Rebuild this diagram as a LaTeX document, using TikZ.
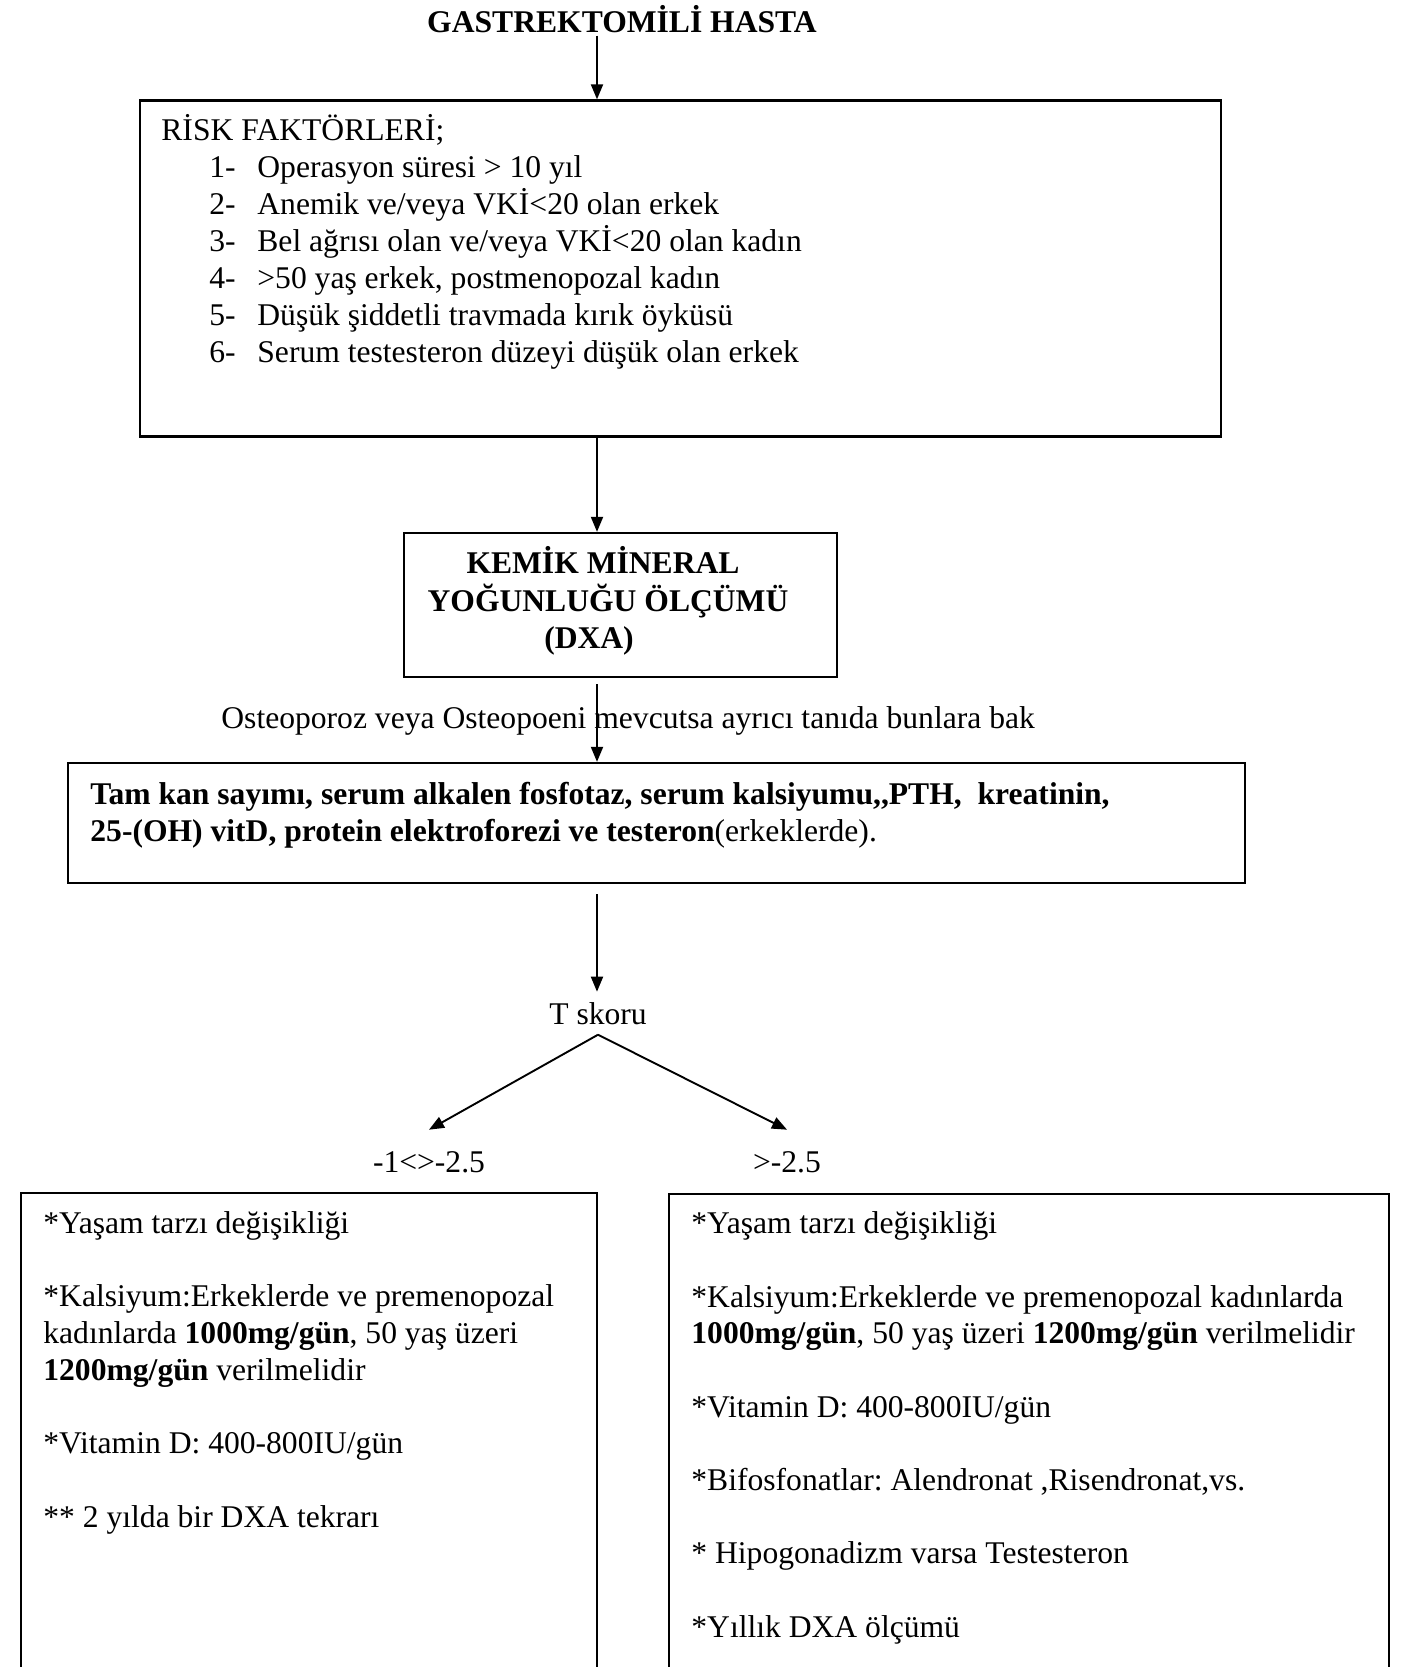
\documentclass[tikz,border=0pt]{standalone}
\usepackage{fontspec}
\setmainfont{Liberation Serif}
\usetikzlibrary{arrows.meta}
\frenchspacing
\begin{document}
\begin{tikzpicture}[x=0.5pt,y=-0.5pt,
  box/.style={draw=black,line width=1.15pt,inner sep=0pt},
  txt/.style={anchor=base west,inner sep=0pt,font=\fontsize{15.8}{18.5}\selectfont},
  ctxt/.style={anchor=base,inner sep=0pt,font=\fontsize{15.8}{18.5}\selectfont},
  btxt/.style={anchor=base,inner sep=0pt,font=\fontsize{15.8}{18.5}\selectfont\bfseries},
  arr/.style={draw=black,line width=0.95pt,-{Triangle[length=7.5pt,width=6pt]}}
]
\useasboundingbox (0,0) rectangle (1407,1667);
\coordinate (spine) at (597,0);

% title
\node[btxt] (title) at (622,32) {GASTREKTOMİLİ HASTA};

% risk box
\node[box,minimum width=540.5pt,minimum height=168pt] (risk) at (680.5,268.5) {};
\node[txt] (r0) at (161,140) {RİSK FAKTÖRLERİ;};
\node[txt] (n1) at (209,177) {1-};
\node[txt] (t1) at (257,177) {Operasyon süresi > 10 yıl};
\node[txt] (n2) at (209,214) {2-};
\node[txt] (t2) at (257,214) {Anemik ve/veya VKİ<20 olan erkek};
\node[txt] (n3) at (209,251) {3-};
\node[txt] (t3) at (257,251) {Bel ağrısı olan ve/veya VKİ<20 olan kadın};
\node[txt] (n4) at (209,288) {4-};
\node[txt] (t4) at (257,288) {>50 yaş erkek, postmenopozal kadın};
\node[txt] (n5) at (209,325) {5-};
\node[txt] (t5) at (257,325) {Düşük şiddetli travmada kırık öyküsü};
\node[txt] (n6) at (209,362) {6-};
\node[txt] (t6) at (257,362) {Serum testesteron düzeyi düşük olan erkek};

% DXA box
\node[box,minimum width=216.5pt,minimum height=72pt] (dxa) at (620.5,605) {};
\node[btxt] (d1) at (603,573) {KEMİK MİNERAL};
\node[btxt] (d2) at (608,611) {YOĞUNLUĞU ÖLÇÜMÜ};
\node[btxt] (d3) at (589,648) {(DXA)};

% label
\node[txt] (ost) at (221,728) {Osteoporoz veya Osteopoeni mevcutsa ayrıcı tanıda bunlara bak};

% lab box
\node[box,minimum width=588.5pt,minimum height=60pt] (lab) at (656.5,823) {};
\node[txt] (l1) at (90,804) {\bfseries Tam kan sayımı, serum alkalen fosfotaz, serum kalsiyumu,{},PTH,\ \ kreatinin,};
\node[txt] (l2) at (90,841) {\textbf{25-(OH) vitD, protein elektroforezi ve testeron}(erkeklerde).};

% T skoru
\node[ctxt,inner sep=5pt] (tsk) at (598,1024) {T skoru};
\node[ctxt,inner sep=10.5pt] (lo) at (429,1172) {-1<>-2.5};
\node[ctxt,inner sep=10.5pt] (hi) at (787,1172) {>-2.5};

% bottom boxes
\begin{scope}
\clip (0,0) rectangle (1407,1667);
\node[box,minimum width=288pt,minimum height=264pt] (lbox) at (309,1457) {};
\node[box,minimum width=360pt,minimum height=264pt] (rbox) at (1029,1458) {};
\end{scope}

\node[txt] (a1) at (43,1233) {*Yaşam tarzı değişikliği};
\node[txt] (a2) at (43,1306) {*Kalsiyum:Erkeklerde ve premenopozal};
\node[txt] (a3) at (43,1343) {kadınlarda \textbf{1000mg/gün}, 50 yaş üzeri};
\node[txt] (a4) at (43,1380) {\textbf{1200mg/gün} verilmelidir};
\node[txt] (a5) at (43,1453) {*Vitamin D: 400-800IU/gün};
\node[txt] (a6) at (43,1527) {** 2 yılda bir DXA tekrarı};

\node[txt] (b1) at (691,1233) {*Yaşam tarzı değişikliği};
\node[txt] (b2) at (691,1307) {*Kalsiyum:Erkeklerde ve premenopozal kadınlarda};
\node[txt] (b3) at (691,1343) {\textbf{1000mg/gün}, 50 yaş üzeri \textbf{1200mg/gün} verilmelidir};
\node[txt] (b4) at (691,1417) {*Vitamin D: 400-800IU/gün};
\node[txt] (b5) at (691,1490) {*Bifosfonatlar: Alendronat ,Risendronat,vs.};
\node[txt] (b6) at (691,1563) {* Hipogonadizm varsa Testesteron};
\node[txt] (b7) at (691,1637) {*Yıllık DXA ölçümü};

% connectors
\draw[arr] ([yshift=-1.5pt]title.south -| spine) -- (risk.north -| spine);
\draw[arr] (risk.south -| spine) -- (dxa.north -| spine);
\draw[arr,shorten <=3pt] (dxa.south -| spine) -- (lab.north -| spine);
\draw[arr,shorten <=5pt] (lab.south -| spine) -- (tsk.north -| spine);
\draw[arr] (tsk.south) -- (lo.north);
\draw[arr] (tsk.south) -- (hi.north);
\end{tikzpicture}
\end{document}
